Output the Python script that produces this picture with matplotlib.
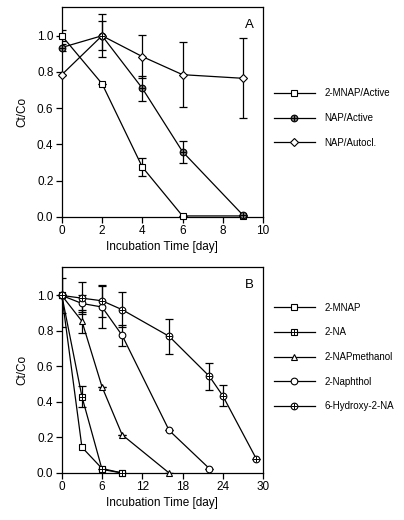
import matplotlib.pyplot as plt
from matplotlib.legend_handler import HandlerTuple

plt.rcParams['font.family'] = ['Liberation Sans', 'DejaVu Sans']

# panel A
a_mnap_x = [0, 2, 4, 6, 9]
a_mnap_y = [1.0, 0.735, 0.275, 0.005, 0.005]
a_mnap_e = [0.03, 0.0, 0.05, 0.0, 0.0]
a_nap_x = [0, 2, 4, 6, 9]
a_nap_y = [0.935, 1.0, 0.71, 0.36, 0.01]
a_nap_e = [0.02, 0.12, 0.07, 0.06, 0.0]
a_aut_x = [0, 2, 4, 6, 9]
a_aut_y = [0.785, 1.0, 0.885, 0.785, 0.765]
a_aut_e = [0.0, 0.08, 0.12, 0.18, 0.22]

# panel B
b_mnap_x = [0, 3, 6, 9]
b_mnap_y = [1.0, 0.145, 0.025, 0.0]
b_na_x = [0, 3, 6, 9]
b_na_y = [1.0, 0.43, 0.02, 0.0]
b_na_e = [0.0, 0.06, 0.0, 0.0]
b_meth_x = [0, 3, 6, 9, 16]
b_meth_y = [1.0, 0.855, 0.485, 0.215, 0.0]
b_meth_e = [0.18, 0.065, 0.0, 0.0, 0.0]
b_nol_x = [0, 3, 6, 9, 16, 22]
b_nol_y = [1.0, 0.955, 0.935, 0.775, 0.24, 0.025]
b_nol_e = [0.0, 0.05, 0.12, 0.06, 0.0, 0.0]
b_hyd_x = [0, 3, 6, 9, 16, 22, 24, 29]
b_hyd_y = [1.0, 0.985, 0.97, 0.92, 0.77, 0.545, 0.435, 0.08]
b_hyd_e = [0.1, 0.09, 0.09, 0.10, 0.10, 0.075, 0.06, 0.0]

fig = plt.figure(figsize=(4.04, 5.20), dpi=100)
axA = fig.add_axes([0.153, 0.583, 0.498, 0.404])
axB = fig.add_axes([0.153, 0.0904, 0.498, 0.396])

ms = 4.8


def series(ax, x, y, e, marker, fc='white', plus=False, size=ms):
    if e is not None:
        ax.errorbar(x, y, yerr=e, fmt='none', ecolor='black', elinewidth=0.9,
                    capsize=3, capthick=0.9)
    ln, = ax.plot(x, y, color='black', lw=0.9, marker=marker, ms=size,
                  mfc=fc, mec='black', mew=0.8, clip_on=False, zorder=3)
    if plus:
        p, = ax.plot(x, y, ls='none', marker='+', ms=size, mec='black',
                     mew=0.7, clip_on=False, zorder=4)
        return (ln, p)
    return ln


leg_kw = dict(handler_map={tuple: HandlerTuple(ndivide=1)}, loc='upper left',
              frameon=False, fontsize=7, handlelength=4.2, handletextpad=1.0,
              labelspacing=1.5, borderaxespad=0)

h1 = series(axA, a_mnap_x, a_mnap_y, a_mnap_e, 's')
h2 = series(axA, a_nap_x, a_nap_y, a_nap_e, 'o', fc='0.45', plus=True)
h3 = series(axA, a_aut_x, a_aut_y, a_aut_e, 'D', size=4.2)
axA.legend([h1, h2, h3], ['2-MNAP/Active', 'NAP/Active', 'NAP/Autocl.'],
           bbox_to_anchor=(1.035, 0.63), **leg_kw)

g1 = series(axB, b_mnap_x, b_mnap_y, None, 's')
g2 = series(axB, b_na_x, b_na_y, b_na_e, 's', plus=True)
g3 = series(axB, b_meth_x, b_meth_y, b_meth_e, '^')
g4 = series(axB, b_nol_x, b_nol_y, b_nol_e, 'o')
g5 = series(axB, b_hyd_x, b_hyd_y, b_hyd_e, 'o', plus=True)
axB.legend([g1, g2, g3, g4, g5],
           ['2-MNAP', '2-NA', '2-NAPmethanol', '2-Naphthol', '6-Hydroxy-2-NA'],
           bbox_to_anchor=(1.035, 0.845), **leg_kw)

for ax, xt, xl, lab in [(axA, [0, 2, 4, 6, 8, 10], (0, 10), 'A'),
                        (axB, [0, 6, 12, 18, 24, 30], (0, 30), 'B')]:
    ax.set_xlim(*xl)
    ax.set_ylim(0, 1.16)
    ax.set_xticks(xt)
    ax.set_yticks([0.0, 0.2, 0.4, 0.6, 0.8, 1.0])
    ax.set_yticklabels(['0.0', '0.2', '0.4', '0.6', '0.8', '1.0'])
    ax.tick_params(direction='out', length=4, width=0.9, labelsize=8.5, pad=2)
    for s in ax.spines.values():
        s.set_linewidth(0.9)
    ax.set_xlabel('Incubation Time [day]', fontsize=8.5, labelpad=3)
    ax.set_ylabel('Ct/Co', fontsize=8.5, labelpad=6)
    ax.text(0.93, 0.9, lab, transform=ax.transAxes, fontsize=9.5, ha='center')

fig.savefig('out.png', dpi=100)
